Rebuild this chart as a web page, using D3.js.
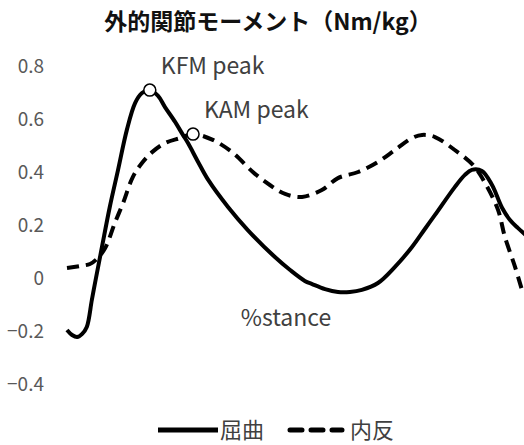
<!DOCTYPE html>
<html>
  <head>
    <meta charset="utf-8" />
    <title>外的関節モーメント</title>
    <style>
      body { margin: 0; background: #fff; }
      text { font-family: "Noto Sans CJK JP", "Noto Sans", sans-serif; }
    </style>
  </head>
  <body>
    <div id="chart-area"></div>
    <script src="https://d3js.org/d3.v7.min.js"></script>
    <script>
      // knee external moment
      const stanceFlex = [0, 1.1, 2.2, 3.3, 4.3, 5.4, 6.3, 7.6, 9.3, 11.1, 13.0, 14.8, 16.3, 18.0, 19.8, 21.3, 23.5, 25.2, 26.3, 28.5, 30.7, 35.0, 39.3, 45.2, 48.5, 51.7, 53.3, 56.1, 58.9, 61.5, 64.1, 67.6, 71.3, 75.0, 77.8, 80.0, 84.3, 86.5, 88.0, 90.2, 92.4, 94.6, 96.3, 98.0, 100];
      const flexion = [-0.196, -0.215, -0.223, -0.211, -0.185, -0.083, 0, 0.117, 0.268, 0.408, 0.558, 0.66, 0.698, 0.709, 0.687, 0.645, 0.589, 0.54, 0.509, 0.438, 0.37, 0.268, 0.181, 0.079, 0.03, -0.011, -0.023, -0.042, -0.053, -0.053, -0.045, -0.019, 0.042, 0.117, 0.185, 0.238, 0.343, 0.389, 0.408, 0.404, 0.351, 0.264, 0.219, 0.189, 0.158];

      const stanceAdd = [0, 2.8, 5.0, 6.5, 8.3, 10.4, 12.2, 14.3, 16.3, 18.5, 21.3, 24.6, 27.4, 31.7, 36.1, 40.4, 44.1, 47.4, 51.1, 55.4, 58.9, 63.3, 67.6, 71.3, 75.0, 77.2, 80.0, 84.3, 88.3, 90.9, 93.7, 95.2, 97.4, 98.9];
      const adduction = [0.038, 0.045, 0.053, 0.072, 0.113, 0.208, 0.283, 0.381, 0.434, 0.475, 0.509, 0.528, 0.543, 0.521, 0.472, 0.4, 0.351, 0.317, 0.306, 0.332, 0.377, 0.4, 0.438, 0.483, 0.528, 0.54, 0.532, 0.483, 0.426, 0.358, 0.257, 0.155, 0.042, -0.045];

      const yTicks = [0.8, 0.6, 0.4, 0.2, 0, -0.2, -0.4];
      const peaks = [
        { name: "KFM peak", x: 18.0, y: 0.709 },
        { name: "KAM peak", x: 27.4, y: 0.543 }
      ];
      const seriesNames = ["屈曲", "内反"];

      const width = 524;
      const height = 445;

      const svg = d3.select("#chart-area").append("svg")
        .attr("width", width)
        .attr("height", height);

      const x = d3.scaleLinear().domain([0, 100]).range([67, 527]);
      const y = d3.scaleLinear().domain([-0.4, 0.8]).range([384, 66]);

      // title
      svg.append("text")
        .attr("x", 268)
        .attr("y", 30)
        .attr("text-anchor", "middle")
        .attr("font-size", 23)
        .attr("font-weight", "bold")
        .attr("fill", "#111")
        .text("外的関節モーメント（Nm/kg）");

      // y axis: labels only, no line or ticks
      const yAxis = svg.append("g")
        .attr("transform", "translate(44,0)")
        .call(d3.axisLeft(y).tickValues(yTicks).tickSize(0).tickPadding(0)
          .tickFormat(d => d === 0 ? "0" : d3.format(".1f")(d)));
      yAxis.select(".domain").remove();
      yAxis.selectAll("text")
        .attr("font-size", 19)
        .attr("fill", "#595959")
        .style("font-family", "'Noto Sans CJK JP', sans-serif");

      const line = d3.line()
        .x(d => x(d[0]))
        .y(d => y(d[1]))
        .curve(d3.curveCatmullRom.alpha(0.5));

      svg.append("path")
        .datum(d3.zip(stanceAdd, adduction))
        .attr("d", line)
        .attr("fill", "none")
        .attr("stroke", "#000")
        .attr("stroke-width", 4)
        .attr("stroke-dasharray", "12,7");

      svg.append("path")
        .datum(d3.zip(stanceFlex, flexion))
        .attr("d", line)
        .attr("fill", "none")
        .attr("stroke", "#000")
        .attr("stroke-width", 4);

      svg.selectAll(".peak")
        .data(peaks)
        .enter()
        .append("circle")
        .attr("class", "peak")
        .attr("cx", d => x(d.x))
        .attr("cy", d => y(d.y))
        .attr("r", 6)
        .attr("fill", "#fff")
        .attr("stroke", "#000")
        .attr("stroke-width", 1.5);

      svg.selectAll(".peak-label")
        .data(peaks)
        .enter()
        .append("text")
        .attr("class", "peak-label")
        .attr("x", d => x(d.x) + 11)
        .attr("y", d => y(d.y) - 16)
        .attr("font-size", 23)
        .attr("fill", "#404040")
        .text(d => d.name);

      svg.append("text")
        .attr("x", 286)
        .attr("y", 326)
        .attr("text-anchor", "middle")
        .attr("font-size", 23)
        .attr("fill", "#404040")
        .text("%stance");

      // legend
      const legend = svg.append("g").attr("transform", "translate(158,430)");
      seriesNames.forEach((name, i) => {
        const g = legend.append("g").attr("transform", `translate(${i * 130},0)`);
        g.append("line")
          .attr("x1", i === 1 ? 2 : 0).attr("x2", i === 1 ? 54 : 60)
          .attr("stroke", "#000")
          .attr("stroke-width", 5)
          .attr("stroke-linecap", i === 1 ? "round" : "butt")
          .attr("stroke-dasharray", i === 1 ? "12,9" : null);
        g.append("text")
          .attr("x", i === 1 ? 62 : 62)
          .attr("y", 8)
          .attr("font-size", 22)
          .attr("fill", "#404040")
          .text(name);
      });
    </script>
  </body>
</html>
